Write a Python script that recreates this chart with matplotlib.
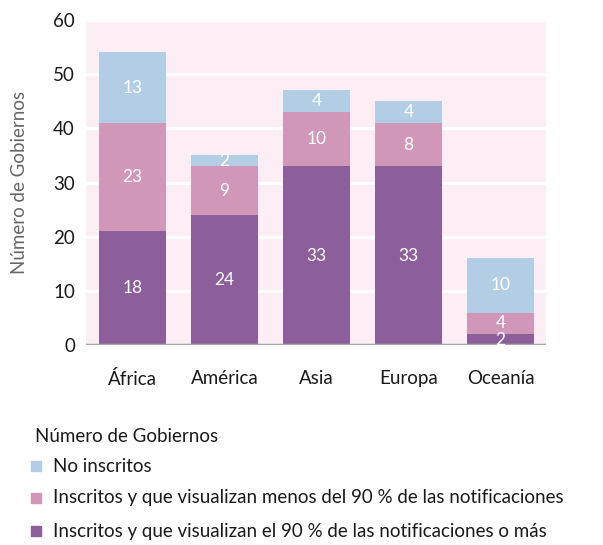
import matplotlib
matplotlib.use("Agg")
import matplotlib.pyplot as plt
from matplotlib.patches import Rectangle
import numpy as np

plt.rcParams['font.family'] = ['Lato', 'DejaVu Sans']

categories = ["África", "América", "Asia", "Europa", "Oceanía"]
# segment heights as drawn
dark_h = [21, 24, 33, 33, 2]
pink_h = [20, 9, 10, 8, 4]
blue_h = [13, 2, 4, 4, 10]
# values printed on segments
dark_lbl = [18, 24, 33, 33, 2]
pink_lbl = [23, 9, 10, 8, 4]
blue_lbl = [13, 2, 4, 4, 10]
series_names = ["No inscritos",
                "Inscritos y que visualizan menos del 90 % de las notificaciones",
                "Inscritos y que visualizan el 90 % de las notificaciones o más"]
yticks = [0, 10, 20, 30, 40, 50, 60]

c_dark = "#8c5f9b"
c_pink = "#d197b8"
c_blue = "#b3cde5"

fig = plt.figure(figsize=(6.03, 5.45), dpi=100)
ax = fig.add_axes([86/603, 1-345/545, (546-86)/603, (345-20)/545])
ax.set_facecolor("#fdeef5")
x = np.arange(len(categories))
w = 0.73
dark_h = np.array(dark_h); pink_h = np.array(pink_h); blue_h = np.array(blue_h)
ax.bar(x, dark_h, w, color=c_dark, zorder=2)
ax.bar(x, pink_h, w, bottom=dark_h, color=c_pink, zorder=2)
ax.bar(x, blue_h, w, bottom=dark_h+pink_h, color=c_blue, zorder=2)

for i in range(len(x)):
    ax.text(x[i], dark_h[i]/2, str(dark_lbl[i]), color="white", ha="center", va="center", fontsize=12.5, zorder=4)
    ax.text(x[i], dark_h[i]+pink_h[i]/2, str(pink_lbl[i]), color="white", ha="center", va="center", fontsize=12.5, zorder=4)
    ax.text(x[i], dark_h[i]+pink_h[i]+blue_h[i]/2, str(blue_lbl[i]), color="white", ha="center", va="center", fontsize=12.5, zorder=4)

ax.set_xlim(-0.505, 4.495)
ax.set_ylim(0, 60)
ax.set_yticks(yticks)
ax.set_yticklabels([str(t) for t in yticks], fontsize=13.5, color="#1a1a1a")
ax.set_xticks(x)
ax.set_xticklabels(categories, fontsize=13.5, color="#1a1a1a")
ax.tick_params(length=0, pad=8)
ax.tick_params(axis='x', pad=18)
ax.yaxis.grid(True, color="white", linewidth=2.5, zorder=1)
ax.set_axisbelow(True)
for s in ax.spines.values():
    s.set_visible(False)
ax.axhline(0, color="#a6a6a6", linewidth=2.5, zorder=3)
ax.set_ylabel("Número de Gobiernos", fontsize=13.5, color="#666666", labelpad=18)

# legend
fig.text(35/603, 1-437/545, "Número de Gobiernos", fontsize=13.5, color="#1a1a1a", va="center", ha="left")
leg_cols = [c_blue, c_pink, c_dark]
leg_y = [466, 498, 531]
for col, name, yy in zip(leg_cols, series_names, leg_y):
    fig.add_artist(Rectangle((31/603, 1-(yy+5)/545), 10/603, 10/545, color=col, transform=fig.transFigure))
    fig.text(53/603, 1-yy/545, name, fontsize=13.5, color="#1a1a1a", va="center", ha="left")

fig.savefig("out.png", dpi=100)
